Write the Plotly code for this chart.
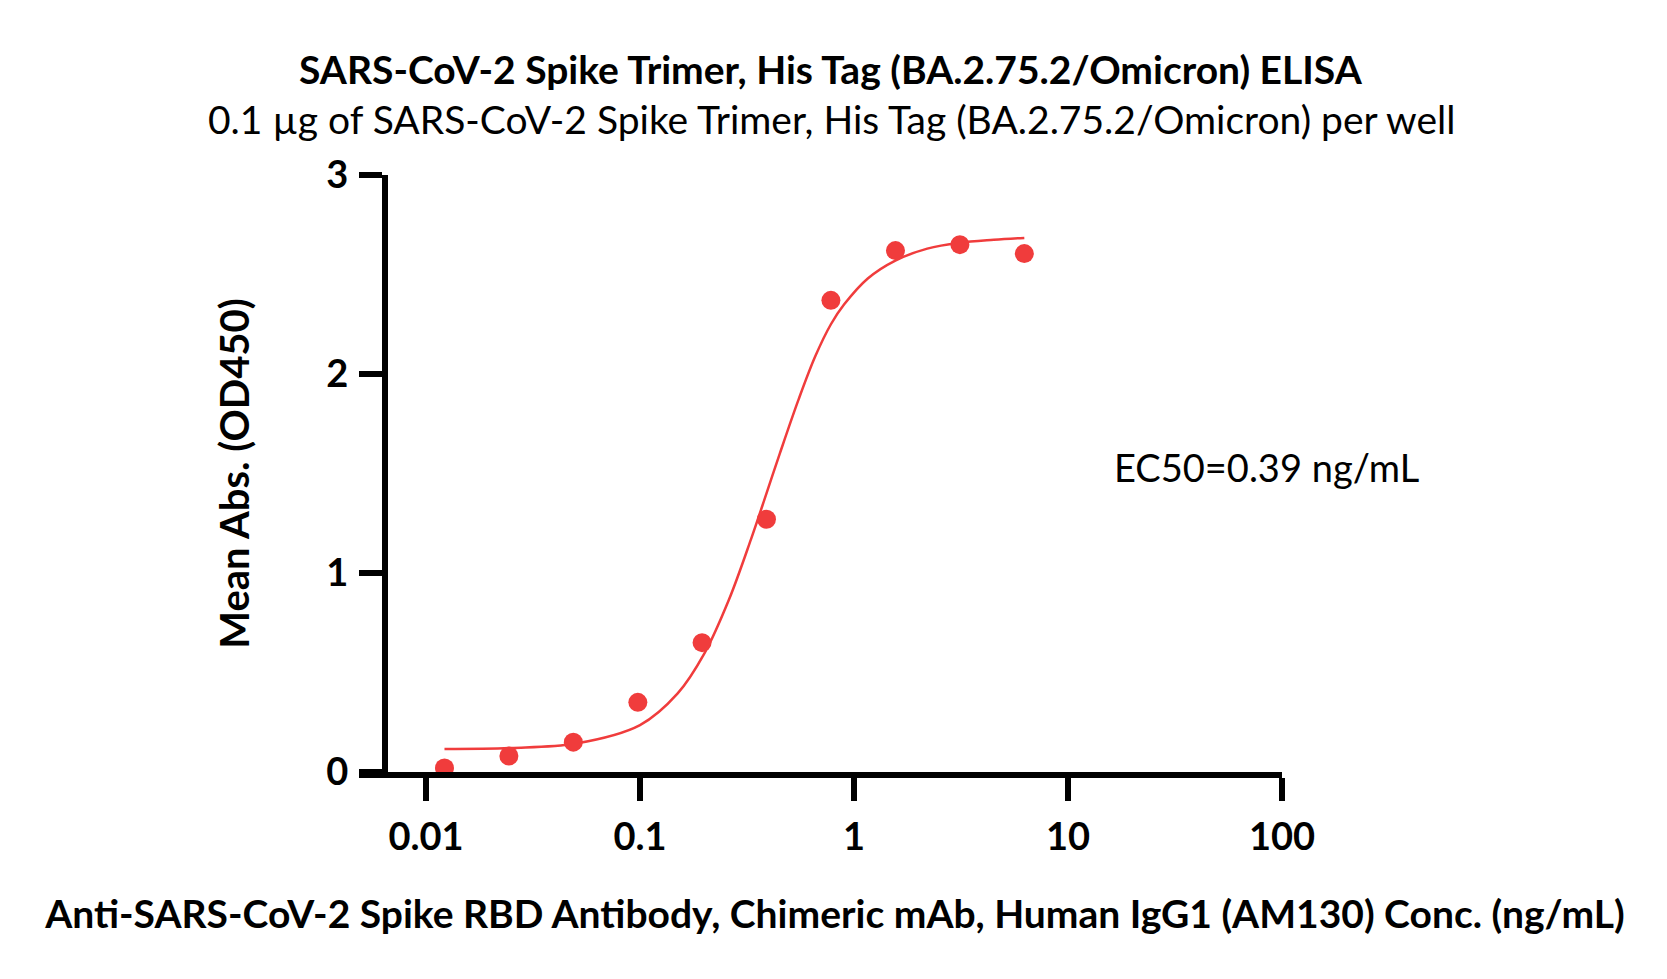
import plotly.graph_objects as go

# Measured data (ng/mL vs OD450)
conc = [0.0122, 0.0244, 0.0488, 0.0977, 0.195, 0.39, 0.78, 1.5625, 3.125, 6.25]
od450 = [0.02, 0.08, 0.15, 0.35, 0.65, 1.27, 2.37, 2.62, 2.65, 2.605]

# Fitted curve
curve_x = [0.0122, 0.025, 0.05, 0.1, 0.15, 0.2, 0.26, 0.33, 0.39, 0.45,
           0.55, 0.66, 0.78, 0.9, 1.16, 1.56, 2.2, 3.1, 4.5, 6.25]
curve_y = [0.116, 0.121, 0.143, 0.236, 0.395, 0.596, 0.864, 1.169, 1.40, 1.60,
           1.87, 2.09, 2.25, 2.35, 2.48, 2.57, 2.63, 2.66, 2.675, 2.684]

x_tickvals = [0.01, 0.1, 1, 10, 100]
x_ticktext = ["0.01", "0.1", "1", "10", "100"]
y_tickvals = [0, 1, 2, 3]

title_text = "SARS-CoV-2 Spike Trimer, His Tag (BA.2.75.2/Omicron) ELISA"
subtitle_text = "0.1 µg of SARS-CoV-2 Spike Trimer, His Tag (BA.2.75.2/Omicron) per well"
x_title = "Anti-SARS-CoV-2 Spike RBD Antibody, Chimeric mAb, Human IgG1 (AM130) Conc. (ng/mL)"
y_title = "Mean Abs. (OD450)"
ec50_text = "EC50=0.39 ng/mL"

RED = "#F03C3C"
FONT = "Lato"

fig = go.Figure()
fig.add_trace(go.Scatter(x=curve_x, y=curve_y, mode="lines",
                         line=dict(color=RED, width=2.5, shape="spline"),
                         showlegend=False, hoverinfo="skip"))
fig.add_trace(go.Scatter(x=conc, y=od450, mode="markers",
                         marker=dict(color=RED, size=19),
                         showlegend=False))

W, H = 1667, 979
L, R, T, B = 388, 385, 175, 207
pw = W - L - R
ph = H - T - B
PX_PER_DEC = 214

fig.update_layout(
    width=W, height=H,
    margin=dict(l=L, r=R, t=T, b=B, autoexpand=False),
    paper_bgcolor="white", plot_bgcolor="white",
    font=dict(family=FONT, color="black"),
    xaxis=dict(type="log", range=[-2 - (426 - L) / PX_PER_DEC, 2],
               tickvals=x_tickvals, ticktext=x_ticktext,
               showline=True, linewidth=6, linecolor="black",
               ticks="outside", ticklen=23, tickwidth=6, tickcolor="black",
               ticklabelstandoff=3,
               tickfont=dict(family=FONT, size=38, weight="bold"),
               showgrid=False, zeroline=False,
               title=dict(text=x_title, standoff=46,
                          font=dict(family=FONT, size=39, weight="bold"))),
    yaxis=dict(range=[0, 3], tickvals=y_tickvals,
               showline=True, linewidth=6, linecolor="black",
               ticks="outside", ticklen=23, tickwidth=6, tickcolor="black",
               ticklabelstandoff=3,
               tickfont=dict(family=FONT, size=38, weight="bold"),
               showgrid=False, zeroline=False,
               title=dict(text=y_title, standoff=66,
                          font=dict(family=FONT, size=40, weight="bold"))),
    annotations=[
        dict(text=title_text, xref="paper", yref="paper",
             x=(831 - L) / pw, y=(H - B - 69) / ph, xanchor="center", yanchor="middle",
             showarrow=False, font=dict(family=FONT, size=39, weight="bold")),
        dict(text=subtitle_text, xref="paper", yref="paper",
             x=(831 - L) / pw, y=(H - B - 119) / ph, xanchor="center", yanchor="middle",
             showarrow=False, font=dict(family=FONT, size=39)),
        dict(text=ec50_text, xref="paper", yref="paper",
             x=(1112 - L) / pw, y=(H - B - 467) / ph, xanchor="left", yanchor="middle",
             showarrow=False, font=dict(family=FONT, size=38)),
    ],
    shapes=[
        dict(type="line", xref="paper", yref="paper",
             x0=-(L - 359) / pw, x1=0.0, y0=-3 / ph, y1=-3 / ph,
             line=dict(color="black", width=6)),
    ],
)

fig.write_html("out.html")
